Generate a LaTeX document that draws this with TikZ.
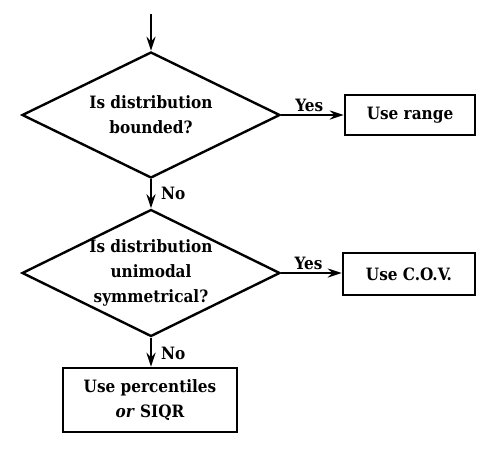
\documentclass[tikz,border=0pt]{standalone}
\usepackage{fontspec}
\setmainfont{DejaVu Serif Condensed}
\usetikzlibrary{shapes.geometric,arrows.meta}
\begin{document}
\begin{tikzpicture}[x=1pt,y=-1pt,
  every node/.style={font=\fontsize{17}{25}\selectfont\bfseries},
  dec/.style={draw,diamond,line width=2.4pt,inner sep=0pt,aspect=2.05,minimum width=258pt,minimum height=126pt},
  txt/.style={align=center,inner sep=0pt},
  box/.style={draw,rectangle,line width=2.4pt,align=center,inner sep=0pt},
  arr/.style={line width=2.4pt,-{Stealth[length=14pt,width=9pt]}},
  lab/.style={inner sep=2pt},
  nolab/.style={inner sep=2pt,right,xshift=7pt}]
\useasboundingbox (0,0) rectangle (500,448);
\coordinate (start) at (151,14);
\node[dec] (d1) at (151,115) {};
\node[txt] (t1) at (151,115) {Is distribution\\bounded?};
\node[box,minimum width=130pt,minimum height=40pt] (b1) at (410,115) {Use range};
\node[dec,minimum height=127pt] (d2) at (151,273) {};
\node[txt] (t2) at (151,273) {Is distribution\\unimodal\\symmetrical?};
\node[box,minimum width=132pt,minimum height=42pt] (b2) at (409,274) {Use C.O.V.};
\node[box,minimum width=174pt,minimum height=64pt] (b3) at (150,400) {Use percentiles\\\textit{or} SIQR};
\draw[arr] (start) -- (d1.north);
\draw[arr] (d1.east) -- (b1.west) node[lab,pos=0.45,above] (y1) {Yes};
\draw[arr] (d1.south) -- (d2.north) node[nolab,midway] (n1) {No};
\draw[arr] (d2.east) -- (b2.west |- d2.east) node[lab,pos=0.45,above] (y2) {Yes};
\draw[arr] (d2.south) -- (b3.north -| d2.south) node[nolab,pos=0.55] (n2) {No};
\end{tikzpicture}
\end{document}
